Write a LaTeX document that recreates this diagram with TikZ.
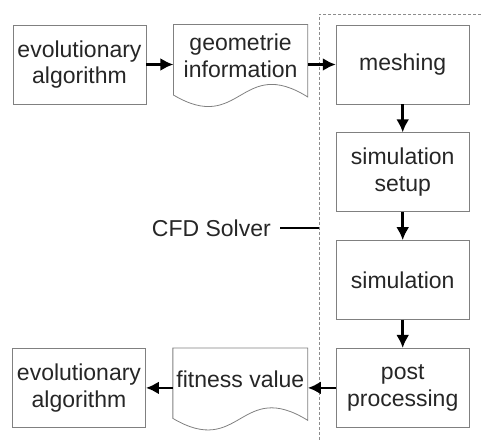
\documentclass[tikz,border=0pt]{standalone}
\usepackage{fontspec}
\setmainfont{Liberation Sans}
\usetikzlibrary{positioning,arrows.meta}

\begin{document}
\begin{tikzpicture}[x=1pt, y=1pt,
  proc/.style={rectangle, draw=black!50, line width=0.8pt, minimum width=133pt, minimum height=79pt, align=center, text=black!85, font=\fontsize{23}{26.5}\selectfont},
  doc/.style={rectangle, minimum width=134pt, minimum height=62pt, align=center, text=black!85, font=\fontsize{23}{26.5}\selectfont},
  doc line/.style={draw=black!50, line width=0.8pt},
  arrow/.style={-{Latex[length=13pt,width=13pt]}, line width=2.6pt},
  border/.style={draw=black!45, dash pattern=on 3pt off 2pt, line width=0.6pt}
]
\useasboundingbox (0,0) rectangle (481,441);

% solver border
\coordinate (corner) at (319,427);
\coordinate (cut) at (319,213);
\draw[border] (481,427) -- (corner) -- (319,0);

\node[proc] (evo) at (79.5,376.5) {evolutionary\\algorithm};
\node[doc, right=27pt of evo.north east, anchor=north west] (geo) {geometrie\\information};
\node[proc, right=28pt of geo.north east, anchor=north west] (mesh) {meshing};

\node[proc] (setup) [below=28pt of mesh] {simulation\\setup};
\node[proc] (sim) [below=28pt of setup] {simulation};
\node[proc] (post) [below=28pt of sim] {post\\processing};

\node[doc, left=28pt of post.north west, anchor=north east] (fit) {fitness value};
\node[proc, left=27pt of fit.north west, anchor=north east] (evo2) {evolutionary\\algorithm};

% document outlines
\foreach \d in {geo,fit}
  \draw[doc line] (\d.north west) -- (\d.north east) -- ([yshift=-10pt]\d.south east)
    .. controls ([yshift=32pt]\d.south) and ([yshift=-48pt]\d.south) .. ([yshift=-8pt]\d.south west) -- cycle;

\draw[arrow] (evo.east) -- (evo.east -| geo.west);
\draw[arrow] (mesh.west -| geo.east) -- (mesh.west);
\draw[arrow] (mesh) -- (setup);
\draw[arrow] (setup) -- (sim);
\draw[arrow] (sim) -- (post);
\draw[arrow] (post.west) -- (post.west -| fit.east);
\draw[arrow] (evo2.east -| fit.west) -- (evo2.east);

\node[text=black!85, font=\fontsize{23}{26.5}\selectfont, inner sep=0pt, left=48pt of cut] (cfd) {CFD Solver};
\draw[line width=1.8pt] ([xshift=9pt]cfd.east) -- (cut);

\end{tikzpicture}
\end{document}
